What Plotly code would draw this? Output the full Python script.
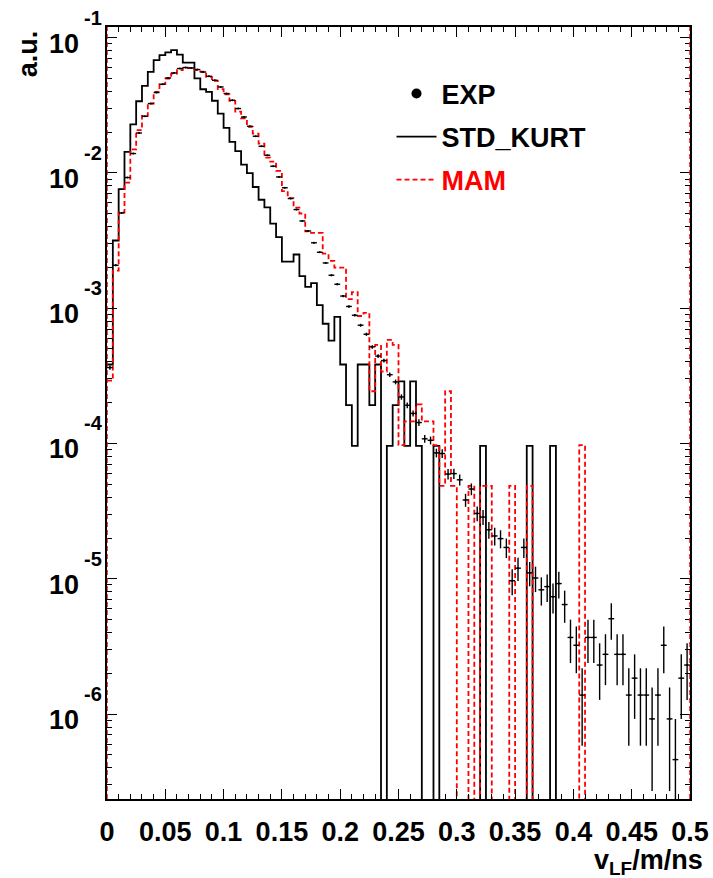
import numpy as np
import plotly.graph_objects as go

# ---------------- data (histograms, 100 bins of 0.005 m/ns, normalised to unit sum) -------------
BIN_WIDTH = 0.005
N_BINS = 100

EXP_COUNTS = [790, 4508, 10977, 20055, 30170, 42820, 56920, 70660, 85190, 98100,
              109200, 118900, 128200, 130400, 129500, 126000, 120900, 112400, 105000, 93700,
              83750, 74730, 64890, 56230, 48010, 40500, 34160, 29310, 24310, 20260,
              16860, 14030, 11630, 9580, 8080, 6610, 5620, 4688, 3802, 3262,
              2669, 2236, 1925, 1624, 1393, 1124, 961, 890, 700, 619,
              479, 416, 362, 310, 235, 229, 185, 183, 129, 130,
              117, 83, 100, 66, 62, 50, 45, 43, 37, 21,
              26, 37, 24, 22, 18, 19, 16, 20, 14, 8,
              7, 3, 8, 8, 5, 6, 11, 6, 6, 3,
              4, 3, 3, 2, 3, 7, 2, 1, 4, 5]

STD_KURT_COUNTS = [4, 33, 79, 149, 238, 353, 459, 582, 710, 774,
                   810, 842, 780, 680, 680, 520, 433, 414, 356, 286,
                   224, 177, 151, 120, 104, 82, 66, 58, 44, 35,
                   23, 23, 26, 18, 15, 16, 11, 8, 6, 9,
                   4, 2, 1, 4, 4, 2, 4, 0, 1, 2,
                   3, 1, 3, 1, 0, 0, 1, 0, 0, 0,
                   0, 0, 0, 0, 1, 0, 0, 0, 0, 0,
                   0, 0, 1, 0, 0, 0, 1, 0, 0, 0,
                   0, 0, 0, 0, 0, 0, 0, 0, 0, 0,
                   0, 0, 0, 0, 0, 0, 0, 0, 0, 0]

MAM_COUNTS = [6, 39, 105, 174, 307, 425, 542, 668, 816, 930,
              1023, 1114, 1180, 1221, 1221, 1180, 1152, 1053, 984, 854,
              784, 700, 583, 521, 450, 401, 338, 267, 249, 213,
              151, 134, 114, 103, 76, 74, 74, 52, 46, 41,
              41, 24, 27, 18, 19, 5, 11, 7, 12, 11,
              2, 3, 3, 4, 3, 3, 2, 1, 5, 1,
              0, 0, 1, 0, 1, 1, 0, 0, 0, 1,
              0, 0, 1, 0, 0, 0, 0, 0, 0, 0,
              0, 2, 0, 0, 0, 0, 0, 0, 0, 0,
              0, 0, 0, 0, 0, 0, 0, 0, 0, 0]

X_TICKS = [0, 0.05, 0.1, 0.15, 0.2, 0.25, 0.3, 0.35, 0.4, 0.45, 0.5]
X_TICK_TEXT = ["0", "0.05", "0.1", "0.15", "0.2", "0.25", "0.3", "0.35", "0.4", "0.45", "0.5"]
Y_DECADES = [-6, -5, -4, -3, -2, -1]
Y_BASE_TEXT = "10"

# ---------------- derived ----------------
edges = np.arange(N_BINS + 1) * BIN_WIDTH
centers = edges[:-1] + BIN_WIDTH / 2

def normalise(counts):
    c = np.asarray(counts, dtype=float)
    return c / c.sum()

exp_c = np.asarray(EXP_COUNTS, dtype=float)
exp_y = exp_c / exp_c.sum()
exp_err = np.sqrt(exp_c) / exp_c.sum()

FLOOR = 1e-12  # empty bins drawn below the log axis (as ROOT does)

def step_xy(counts):
    v = normalise(counts)
    v = np.where(v > 0, v, FLOOR)
    return edges, np.append(v, v[-1])

std_x, std_y = step_xy(STD_KURT_COUNTS)
mam_x, mam_y = step_xy(MAM_COUNTS)

FONT = "Liberation Sans"
PLOT_W = 583.0  # plot-area width in px (for placing the ROOT-style log labels)

fig = go.Figure()
fig.add_trace(go.Scatter(x=std_x, y=std_y, mode="lines", name="STD_KURT",
                         line=dict(color="black", width=1.8, shape="hv"),
                         legendgroup="b", legendrank=2))
fig.add_trace(go.Scatter(x=mam_x, y=mam_y, mode="lines",
                         name='<span style="color:#ff0000">MAM</span>',
                         line=dict(color="#ff0000", width=1.8, shape="hv", dash="5px,3px"),
                         legendgroup="c", legendrank=3))
fig.add_trace(go.Scatter(x=centers, y=exp_y, mode="markers", showlegend=False,
                         marker=dict(size=2, color="black"),
                         error_y=dict(type="data", array=exp_err, width=0, thickness=1.4, color="black"),
                         error_x=dict(type="constant", value=BIN_WIDTH / 2, width=0, thickness=1.4,
                                      color="black")))
fig.add_trace(go.Scatter(x=[None], y=[None], mode="markers", name="EXP",
                         marker=dict(size=10, color="black"), legendgroup="a", legendrank=1))

minor_y = [m * 10.0 ** d for d in range(-7, 0) for m in range(2, 10)]

# ROOT-style log labels: "10" with a raised exponent
label_annots = []
for d in Y_DECADES:
    label_annots.append(dict(text=Y_BASE_TEXT, xref="paper", yref="y", x=-26 / PLOT_W, y=d,
                             xanchor="right", yanchor="middle", yshift=-6, showarrow=False,
                             font=dict(family=FONT, size=27, weight="bold")))
    label_annots.append(dict(text=str(d), xref="paper", yref="y", x=-25 / PLOT_W, y=d,
                             xanchor="left", yanchor="middle", yshift=20, showarrow=False,
                             font=dict(family=FONT, size=20, weight="bold")))

fig.update_layout(
    width=713, height=878,
    margin=dict(l=107, r=23, t=27, b=79, autoexpand=False),
    paper_bgcolor="white", plot_bgcolor="white",
    font=dict(family=FONT, size=27, color="black", weight="bold"),
    showlegend=True,
    legend=dict(x=0.488, y=0.945, xanchor="left", yanchor="top",
                bgcolor="rgba(0,0,0,0)", borderwidth=0,
                font=dict(family=FONT, size=27, color="black", weight="bold"),
                itemwidth=40, tracegroupgap=5),
    xaxis=dict(range=[0, 0.5], showgrid=False, zeroline=False, automargin=False,
               showline=True, linecolor="black", linewidth=1.5, mirror="ticks",
               ticks="inside", ticklen=10, tickwidth=1.2, tickcolor="black",
               tickvals=X_TICKS, ticktext=X_TICK_TEXT, ticklabelstandoff=8,
               minor=dict(dtick=0.01, tick0=0, ticks="inside", ticklen=5, tickwidth=1, tickcolor="black"),
               tickfont=dict(family=FONT, size=27, weight="bold")),
    yaxis=dict(type="log", range=[-6.628, -0.922], showgrid=False, zeroline=False, automargin=False,
               showline=True, linecolor="black", linewidth=1.5, mirror="ticks",
               ticks="inside", ticklen=10, tickwidth=1.2, tickcolor="black",
               tickvals=[10.0 ** d for d in Y_DECADES], showticklabels=False,
               minor=dict(tickvals=minor_y, ticks="inside", ticklen=5, tickwidth=1, tickcolor="black")),
    shapes=[
        dict(type="line", xref="x", yref="y domain", x0=0, x1=0, y0=0, y1=1,
             line=dict(color="#ff0000", width=1.5, dash="5px,3px")),
        dict(type="line", xref="x", yref="y domain", x0=0.5, x1=0.5, y0=0, y1=1,
             line=dict(color="#ff0000", width=1.5, dash="5px,3px")),
    ],
    annotations=label_annots + [
        dict(text="a.u.", xref="paper", yref="paper", x=-0.135, y=0.998,
             xanchor="center", yanchor="top", textangle=-90, showarrow=False,
             font=dict(family=FONT, size=27, weight="bold")),
        dict(text="v<sub>LF</sub>/m/ns", xref="paper", yref="paper", x=1.026, y=-0.082,
             xanchor="right", yanchor="middle", showarrow=False,
             font=dict(family=FONT, size=27, weight="bold")),
    ],
)

fig.write_html("out.html")
